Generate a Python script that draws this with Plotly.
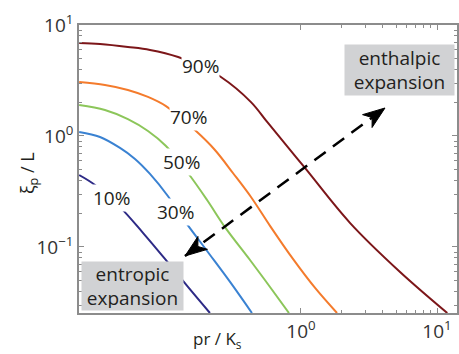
import math
import plotly.graph_objects as go

# ---- data (pr/Ks, xi_p/L) ----
levels = ["10%", "30%", "50%", "70%", "90%"]

pr_10 = [0.0234, 0.0306, 0.0475, 0.0689, 0.100, 0.1476, 0.214]
xi_10 = [0.445, 0.362, 0.224, 0.134, 0.078, 0.0436, 0.0254]

pr_30 = [0.0234, 0.0333, 0.0467, 0.0602, 0.0776, 0.105, 0.140, 0.204, 0.301, 0.436]
xi_30 = [1.087, 0.979, 0.780, 0.621, 0.455, 0.288, 0.171, 0.0920, 0.0484, 0.0254]

pr_50 = [0.0234, 0.0362, 0.0534, 0.0750, 0.1017, 0.1476, 0.204, 0.276, 0.422, 0.592, 0.816]
xi_50 = [1.90, 1.715, 1.42, 1.11, 0.813, 0.464, 0.265, 0.151, 0.0763, 0.0436, 0.0254]

pr_70 = [0.0234, 0.0362, 0.0534, 0.0750, 0.1017, 0.166, 0.233, 0.316, 0.429, 0.592, 0.873, 1.27, 1.84]
xi_70 = [3.07, 2.88, 2.60, 2.25, 1.86, 1.13, 0.748, 0.464, 0.282, 0.155, 0.078, 0.0427, 0.0254]

pr_90 = [0.0234, 0.0333, 0.0534, 0.0776, 0.125, 0.181, 0.258, 0.429, 0.572, 1.07, 2.29, 5.35, 11.9]
xi_90 = [6.89, 6.74, 6.34, 5.96, 5.15, 4.27, 3.40, 2.02, 1.31, 0.515, 0.165, 0.0595, 0.0254]

# label anchor points (data units) for the curve labels
label_pr = [0.0407, 0.1186, 0.1334, 0.150, 0.184]
label_xi = [0.276, 0.2065, 0.583, 1.483, 4.276]

x_tickvals = [1, 10]
x_ticktext = ["10<sup>0</sup>", "10<sup>1</sup>"]
y_tickvals = [0.1, 1, 10]
y_ticktext = ["10<sup>\u22121</sup>", "10<sup>0</sup>", "10<sup>1</sup>"]

series = [(pr_10, xi_10), (pr_30, xi_30), (pr_50, xi_50), (pr_70, xi_70), (pr_90, xi_90)]
colors = ["#2d2a86", "#3a82d2", "#8cc65a", "#f47b2c", "#7c1619"]

FONT = "Open Sans"
TXT = "#231f20"
AXC = "#8c8c8c"

# plot area in pixels
W, H = 459, 354
ML, MR, MT, MB = 79, 2, 25, 41
PW, PH = W - ML - MR, H - MT - MB


def to_paper(px, py):
    return (px - ML) / PW, (H - MB - py) / PH


fig = go.Figure()
for (px, py), c, name in zip(series, colors, levels):
    fig.add_trace(go.Scatter(x=px, y=py, mode="lines", name=name,
                             line=dict(color=c, width=2, shape="spline", smoothing=1.0),
                             showlegend=False, hoverinfo="skip"))

# curve labels, white background hides the line under them
for lx, ly, t in zip(label_pr, label_xi, levels):
    fig.add_annotation(x=math.log10(lx), y=math.log10(ly), xref="x", yref="y",
                       xanchor="center", yanchor="middle",
                       text=t, showarrow=False, bgcolor="white", borderpad=0,
                       font=dict(family=FONT, size=19, color=TXT))

# dashed double arrow (pixel geometry -> paper)
tip_lo = (185, 256)
tip_hi = (385, 108)
p0 = to_paper(*tip_lo)
p1 = to_paper(*tip_hi)
fig.add_shape(type="line", xref="paper", yref="paper", x0=p0[0], y0=p0[1], x1=p1[0], y1=p1[1],
              line=dict(color="black", width=2.5, dash="14px,9px"))


def head_path(tip, other, L=22, Wd=8, notch=6):
    dx, dy = tip[0] - other[0], tip[1] - other[1]
    n = math.hypot(dx, dy)
    ux, uy = dx / n, dy / n
    nx, ny = -uy, ux
    bx, by = tip[0] - L * ux, tip[1] - L * uy
    pts = [tip,
           (bx + Wd * nx, by + Wd * ny),
           (tip[0] - (L - notch) * ux, tip[1] - (L - notch) * uy),
           (bx - Wd * nx, by - Wd * ny)]
    pp = [to_paper(*p) for p in pts]
    return "M " + " L ".join(f"{a:.5f},{b:.5f}" for a, b in pp) + " Z"


for tip, other in ((tip_hi, tip_lo), (tip_lo, tip_hi)):
    fig.add_shape(type="path", xref="paper", yref="paper", path=head_path(tip, other),
                  fillcolor="black", line=dict(color="black", width=1))

# grey boxes
cx, cy = to_paper(399.5, 70)
fig.add_annotation(x=cx, y=cy, xref="paper", yref="paper", xanchor="center", yanchor="middle",
                   text="enthalpic<br>expansion", showarrow=False,
                   bgcolor="#d1d2d4", width=105, height=46, borderpad=2,
                   font=dict(family=FONT, size=19, color=TXT))
cx, cy = to_paper(132.5, 286)
fig.add_annotation(x=cx, y=cy, xref="paper", yref="paper", xanchor="center", yanchor="middle",
                   text="entropic<br>expansion", showarrow=False,
                   bgcolor="#d1d2d4", width=97, height=44, borderpad=2,
                   font=dict(family=FONT, size=19, color=TXT))

# axis titles
cx, cy = to_paper(217, 339)
fig.add_annotation(x=cx, y=cy, xref="paper", yref="paper", xanchor="center", yanchor="middle",
                   text="pr / K<sub>s</sub>", showarrow=False,
                   font=dict(family=FONT, size=17, color=TXT))
cx, cy = to_paper(28, 173)
fig.add_annotation(x=cx, y=cy, xref="paper", yref="paper", xanchor="center", yanchor="middle",
                   text="\u03be<sub>p</sub> / L", showarrow=False, textangle=-90,
                   font=dict(family=FONT, size=18, color=TXT))

x_minor = [2, 3, 4, 5, 6, 7, 8, 9]
y_minor = [m * d for d in (0.01, 0.1, 1) for m in range(2, 10)]

common = dict(ticks="inside", ticklen=5, tickcolor=AXC, showline=True, linecolor=AXC,
              linewidth=1.5, mirror="ticks", showgrid=False, zeroline=False, automargin=False,
              tickfont=dict(family=FONT, size=19, color="#333333"))
fig.update_xaxes(type="log", range=[-1.632, 1.147], tickvals=x_tickvals, ticktext=x_ticktext,
                 minor=dict(tickvals=x_minor, ticks="inside", ticklen=3, tickcolor=AXC, showgrid=False),
                 **common)
fig.update_yaxes(type="log", range=[-1.595, 1.0], tickvals=y_tickvals, ticktext=y_ticktext,
                 minor=dict(tickvals=y_minor, ticks="inside", ticklen=3, tickcolor=AXC, showgrid=False),
                 **common)

fig.update_layout(width=W, height=H, margin=dict(l=ML, r=MR, t=MT, b=MB, autoexpand=False),
                  plot_bgcolor="white", paper_bgcolor="white",
                  font=dict(family=FONT, color=TXT))

fig.write_html("out.html", config={"displayModeBar": False},
               post_script="document.body.style.margin='0px';")
